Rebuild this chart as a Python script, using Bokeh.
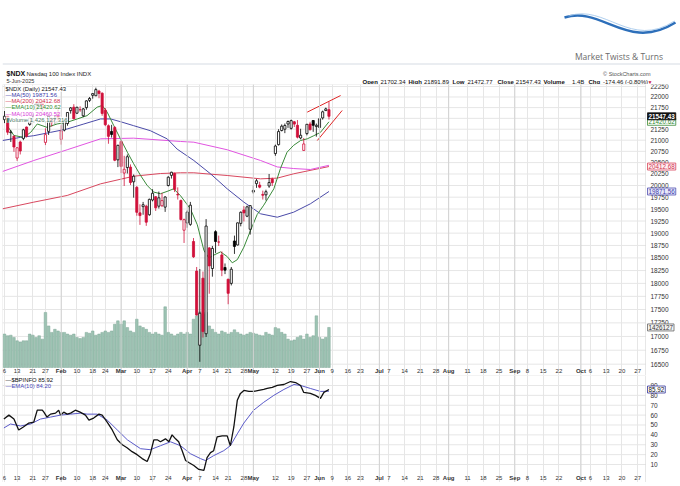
from bokeh.plotting import figure
from bokeh.layouts import column
from bokeh.models import (ColumnDataSource, Range1d, LinearScale, FixedTicker,
                          Label, LabelSet, Span, BoxAnnotation)
from bokeh.core.properties import value
from bokeh.embed import file_html
from bokeh.resources import INLINE

FONT = "Liberation Sans"

# ---- $NDX daily candles, 6-Jan-2025 .. 5-Jun-2025 (trading-day index 0..103)
prior_close = 21326
opens = [
    21470, 21560, 21170, 21090, 20600, 20960, 21040, 21300, 21360, 21560,
    21700, 21780, 21870, 20950, 21200, 21480, 21500, 21620, 21020, 21230,
    21380, 21680, 21760, 21620, 21700, 21560, 21750, 21920, 22040, 22030,
    22140, 22090, 21690, 21330, 21200, 21290, 20560, 20970, 20270, 20390,
    20400, 20080, 19960, 19420, 19550, 19560, 19380, 19690, 19760, 19560,
    19570, 19540, 20000, 20220, 20260, 19810, 19680, 19060, 19210, 19180,
    18830, 18240, 16840, 18100, 17050, 18700, 18290, 19030, 18820, 18560,
    18310, 18080, 18000, 18840, 18760, 19200, 19480, 19350, 19080, 19860,
    20040, 20010, 19810, 19800, 19990, 20140, 20700, 20900, 21220, 21250,
    21370, 21270, 21420, 21340, 21050, 20770, 21150, 21370, 21450, 21310,
    21290, 21510, 21680, 21702.34]
highs = [
    21670, 21600, 21230, 21110, 20840, 20990, 21260, 21310, 21510, 21600,
    21860, 21880, 21910, 21270, 21590, 21520, 21580, 21740, 21340, 21460,
    21640, 21760, 21830, 21770, 21780, 21740, 21920, 22000, 22090, 22222,
    22170, 22110, 21740, 21360, 21350, 21320, 20900, 21000, 20650, 20680,
    20460, 20240, 19990, 19600, 19650, 19590, 19720, 19920, 19770, 19870,
    19840, 19770, 20200, 20300, 20280, 19960, 19700, 19300, 19470, 19650,
    18900, 18320, 18280, 18230, 19290, 18720, 18740, 19060, 18950, 18630,
    18390, 18090, 18320, 18950, 19220, 19450, 19560, 19570, 19580, 20000,
    20140, 20080, 19890, 19910, 20250, 20170, 20900, 21250, 21360, 21380,
    21450, 21470, 21440, 21460, 21260, 21050, 21370, 21420, 21460, 21380,
    21500, 21680, 21750, 21891.89]
lows = [
    21390, 21120, 20960, 20740, 20538, 20680, 21000, 21060, 21330, 21410,
    21690, 21720, 21660, 20890, 21120, 21310, 21380, 21430, 20900, 21200,
    21330, 21610, 21480, 21600, 21650, 21530, 21700, 21880, 21960, 22020,
    21970, 21560, 21320, 20920, 21060, 20530, 20400, 20270, 19990, 20260,
    20010, 19740, 19360, 19170, 19380, 19150, 19360, 19660, 19460, 19510,
    19540, 19440, 19980, 20150, 19860, 19700, 19260, 18800, 19110, 19150,
    18500, 17390, 16542, 16980, 16990, 17800, 18130, 18600, 18740, 18140,
    18180, 17600, 17960, 18580, 18750, 19140, 19240, 19330, 18970, 19820,
    19950, 19940, 19700, 19680, 19950, 19990, 20650, 20880, 21200, 21160,
    21280, 21240, 21300, 21040, 21020, 20760, 21110, 21220, 21190, 21080,
    21170, 21470, 21670, 21472.77]
closes = [
    21550, 21181, 21185, 20847, 20830, 20757, 21237, 21090, 21505, 21566,
    21839, 21862, 21708, 21127, 21549, 21411, 21478, 21470, 21210, 21446,
    21636, 21743, 21491, 21758, 21700, 21720, 21908, 21965, 22080, 22175,
    22083, 21614, 21353, 21087, 21131, 20551, 20884, 20415, 20353, 20629,
    20064, 20201, 19431, 19363, 19590, 19226, 19704, 19834, 19526, 19737,
    19678, 19754, 20180, 20287, 19916, 19798, 19281, 19278, 19435, 19581,
    18521, 17397, 17430, 17090, 19145, 18342, 18690, 18830, 18819, 18257,
    18258, 17808, 18276, 18731, 19212, 19432, 19419, 19546, 19571, 19895,
    20102, 19965, 19792, 19867, 20064, 20061, 20868, 21196, 21320, 21336,
    21427, 21447, 21367, 21069, 21112, 20915, 21363, 21239, 21339, 21340,
    21491, 21652, 21720, 21547.43]
volumes_m = [
    1190, 1130, 1150, 1070, 950, 910, 950, 950, 1190, 1150,
    1070, 1130, 1010, 1960, 1480, 1250, 1360, 1300, 1250, 1250,
    1190, 1150, 1190, 1070, 1030, 1070, 1250, 1220, 1300, 1150,
    1190, 1250, 1300, 1250, 1300, 1540, 1660, 1540, 1660, 1420,
    1300, 1250, 1720, 1480, 1420, 1360, 1250, 1190, 1250, 1190,
    1150, 2160, 1250, 1190, 1130, 1190, 1250, 1190, 1250, 1190,
    1720, 1840, 1980, 1900, 1960, 1480, 1360, 1250, 1190, 1300,
    1250, 1190, 1250, 1340, 1250, 1190, 1150, 1190, 1250, 1220,
    1190, 1150, 1130, 1250, 1190, 1150, 1420, 1380, 1250, 1190,
    1010, 950, 980, 1070, 1130, 1010, 1190, 1070, 1130, 1840,
    1070, 1010, 1070, 1426]

# ---- overlays (trading-day index, value)
ma50_x = [-0.6, 5.1, 9.3, 14.6, 19.9, 25.2, 30.5, 33.7, 36.8, 41, 46.3, 51.7, 54.8,
          60.1, 65.4, 70.7, 76, 81.3, 86.6, 91.8, 97.1, 103]
ma50_y = [20993, 21064, 21102, 21178, 21255, 21370, 21486, 21486, 21423, 21331, 21216,
          21028, 20800, 20546, 20254, 19929, 19645, 19400, 19329, 19434, 19610, 19871.56]
ma200_x = [-0.6, 9.3, 19.9, 30.5, 41, 49.5, 55.9, 60.1, 70.7, 81.3, 86.6, 91.8, 103]
ma200_y = [19505, 19645, 19787, 20036, 20201, 20260, 20276, 20276, 20217, 20144, 20160,
           20254, 20412.68]
ma100_x = [-0.6, 9.3, 19.9, 30.5, 41, 55.9, 60.1, 70.7, 81.3, 86.6, 91.8, 97.1, 103]
ma100_y = [20305, 20546, 20785, 21031, 21046, 20971, 20955, 20785, 20546, 20404, 20369,
           20348, 20440]
ema10_x = [0.8, 3, 6.1, 8.3, 10.4, 13.5, 16.7, 19.9, 23.1, 26.2, 29.4, 31, 32.6, 34.7,
           36.8, 39, 41, 43.2, 45.3, 47.4, 49.5, 51.6, 53.7, 55.9, 59, 61.2, 63.3, 64.9,
           66.5, 68.6, 70.7, 72.3, 73.9, 76, 78.1, 80.2, 82.3, 85.5, 87.6, 89.7, 91.8,
           94, 96.1, 98.2, 100.3, 103]
ema10_y = [21335, 21107, 21064, 21178, 21370, 21293, 21370, 21409, 21486, 21563, 21760,
           21800, 21644, 21331, 21031, 20731, 20475, 20217, 20000, 19859, 19824, 19873,
           19929, 19780, 19505, 19173, 18653, 18497, 18558, 18621, 18527, 18403, 18465,
           18716, 19054, 19383, 19581, 19929, 20369, 20731, 20885, 20993, 21031, 21102,
           21178, 21420.62]
wedge_up_x = [96.1, 106.7]
wedge_up_y = [21644, 22035]
wedge_lo_x = [99.3, 107.2]
wedge_lo_y = [20993, 21683]

# ---- $BPINFO and its EMA(10)
bp_x = [-0.2, 1.4, 3, 4.5, 6, 7.7, 9.3, 10.4, 12, 12.5, 13.5, 14.6, 16.2, 17.2, 17.8,
        18.8, 19.9, 21, 22.5, 24, 25.7, 26.8, 28.3, 30, 31, 32.6, 34.2, 35.8, 37.4,
        38.9, 40.5, 42.1, 43.7, 45.3, 46.3, 47.4, 48.5, 49.5, 51.1, 52.2, 53.2, 54.3,
        55.3, 56.4, 57.5, 58.5, 60.1, 61.7, 63.3, 64.3, 65.4, 66.4, 67.5, 69.1, 70.7,
        71.7, 72.8, 73.9, 74.9, 76, 77.6, 79.1, 80.7, 82.3, 83.4, 85, 86.6, 88.7, 90.8,
        92.4, 94, 95, 97.1, 98.7, 100.3, 101.4, 103]
bp_y = [56, 60, 56, 45, 48, 52, 53, 65, 65, 63, 58, 61, 62, 65, 60, 63, 61, 62, 65, 63,
        60, 55, 57, 61, 60, 53, 45, 35, 30, 27, 23, 20, 16, 13, 21, 35, 35, 33, 36, 33,
        40, 36, 33, 24, 14, 12, 9, 5, 4, 17, 22, 24, 38, 39, 39, 29, 48, 75, 82, 85, 84,
        84, 85, 86, 87, 88, 90, 91, 94, 93, 90, 83, 82, 80, 77, 83, 85.92]
bpe_x = [-0.2, 1.9, 5.1, 8.3, 11.4, 14.6, 17.8, 21, 24.1, 26.2, 29.4, 32.6, 35.8, 39,
         43.2, 46.3, 49.5, 52.7, 55.9, 59, 62.2, 63.8, 66.4, 69.6, 71.7, 73.9, 76, 79.1,
         82.3, 85.5, 88.7, 91.9, 94, 97.1, 100.3, 103]
bpe_y = [47, 51, 49, 51, 56, 58, 60, 61, 62, 61, 61, 55, 45, 35, 26, 25, 29, 33, 29, 21,
         16, 14, 19, 24, 29, 41, 52, 65, 73, 80, 86, 91, 90, 87, 84, 84.2]

# ---- axis ticks
tick_idx = [0, 4, 9, 13, 18, 23, 28, 32, 37, 42, 47, 52, 58, 62, 67, 71, 76, 79, 86, 91,
            96, 100, 104, 109, 113, 119, 122, 127, 132, 137, 141, 147, 152, 157, 162,
            166, 171, 176, 183, 186, 191, 196, 201]
tick_txt = ["6", "13", "21", "27", "Feb", "10", "18", "24", "Mar", "10", "17", "24",
            "Apr", "7", "14", "21", "28", "May", "12", "19", "27", "Jun", "9", "16", "23",
            "Jul", "7", "14", "21", "28", "Aug", "11", "18", "25", "Sep", "8", "15", "22",
            "Oct", "6", "13", "20", "27"]
months = ["Feb", "Mar", "Apr", "May", "Jun", "Jul", "Aug", "Sep", "Oct"]
price_ticks = list(range(16500, 22251, 250))
bp_ticks = [10, 20, 30, 40, 50, 60, 70, 80, 90]

RED = "#d0103a"
BLACK = "#000000"
GRID = "#e6e6e6"

n = len(closes)
days = list(range(n))
prev = [prior_close] + closes[:-1]
ccol = [BLACK if c >= p else RED for c, p in zip(closes, prev)]
cfill = ["#ffffff" if c > o else k for o, c, k in zip(opens, closes, ccol)]
ctop = [max(o, c) for o, c in zip(opens, closes)]
cbot = [min(o, c) for o, c in zip(opens, closes)]

day_lbl = [(i, t) for i, t in zip(tick_idx, tick_txt) if t not in months]
mon_lbl = [(i, t) for i, t in zip(tick_idx, tick_txt) if t in months]
mon_idx = [i for i, _ in mon_lbl]

# the frame spans the price-scale strip too; the chart box itself ends at PANEL_END
xr = Range1d(-0.635, 214.6)
PANEL_END = 203.49


def date_labels(fig, y):
    for rows, style in ((day_lbl, "normal"), (mon_lbl, "bold")):
        src = ColumnDataSource(dict(x=[r[0] for r in rows], t=[r[1] for r in rows]))
        fig.add_layout(LabelSet(x="x", y=y, y_units="screen", text="t", source=src,
                                text_align="center", text_baseline="middle",
                                text_font=value(FONT), text_font_size="6px",
                                text_font_style=style, text_color="#333333"))


def note(fig, x, y, s, size, color="#222222", bold=False, align="left", units="data",
         font=FONT, **kw):
    fig.add_layout(Label(x=x, y=y, x_units=units, y_units=units, text=s,
                         text_font=font, text_font_size=f"{size}px", text_color=color,
                         text_font_style="bold" if bold else "normal",
                         text_align=align, text_baseline="middle", **kw))


def style_panel(fig, yticks):
    fig.outline_line_color = None
    fig.background_fill_color = "white"
    fig.border_fill_color = "white"
    fig.xgrid.ticker = FixedTicker(ticks=tick_idx)
    fig.xgrid.grid_line_color = GRID
    fig.ygrid.visible = False
    fig.segment(x0=xr.start, x1=PANEL_END, y0=yticks, y1=yticks, line_color=GRID,
                line_width=1)
    for m in mon_idx:
        fig.add_layout(Span(location=m, dimension="height", line_color="#d2d2d2",
                            line_width=1))
    fig.add_layout(BoxAnnotation(left=xr.start, right=PANEL_END, fill_alpha=0,
                                 line_color="#b0b0b0", line_width=1))
    src = ColumnDataSource(dict(y=yticks, t=[str(t) for t in yticks]))
    fig.add_layout(LabelSet(x=648, x_units="screen", y="y", text="t", source=src,
                            text_align="left", text_baseline="middle",
                            text_font=value(FONT), text_font_size="6.5px",
                            text_color="#333333"))


def axis_box(fig, yv, s, fg, bg, border, bold=False, rng="default"):
    fig.add_layout(Label(x=645, x_units="screen", y=yv, y_range_name=rng, text=s,
                         text_font=FONT, text_font_size="6.3px", text_color=fg,
                         text_font_style="bold" if bold else "normal",
                         text_baseline="middle", background_fill_color=bg,
                         border_line_color=border, border_line_width=0.8, padding=1))


# ---------------- header (data units == page pixels, y measured upward)
hdr = figure(frame_width=680, frame_height=84, x_range=Range1d(0, 680),
             y_range=Range1d(0, 84), toolbar_location=None, output_backend="svg",
             x_axis_location=None, y_axis_location=None, min_border_left=0,
             min_border_right=0, min_border_top=0, min_border_bottom=0,
             outline_line_color=None)
hdr.xgrid.visible = False
hdr.ygrid.visible = False


def hy(y):
    return 84 - y


hdr.bezier(x0=[562], y0=[hy(17)], x1=[673], y1=[hy(22)],
           cx0=[600], cy0=[hy(5)], cx1=[625], cy1=[hy(52)],
           line_color="#2d6fba", line_width=2.4)
hdr.bezier(x0=[566], y0=[hy(15.5)], x1=[672], y1=[hy(20.5)],
           cx0=[603], cy0=[hy(3)], cx1=[628], cy1=[hy(49)],
           line_color="#9cc3ea", line_width=0.8)
note(hdr, 616.5, hy(56), "Market Twists & Turns", 8.5, color="#6b6b6b",
     align="center", font="Open Sans")
hdr.add_layout(Span(location=hy(63.5), dimension="width", line_color="#d5dbe3",
                    line_width=1))
note(hdr, 4, hy(73), "$NDX", 7, color="#111111", bold=True)
note(hdr, 24, hy(73), "Nasdaq 100 Index INDX", 6, color="#222222")
note(hdr, 4, hy(80), "5-Jun-2025", 5.5, color="#333333")
note(hdr, 648, hy(73.3), "\u00a9 StockCharts.com", 5.5, color="#555555", align="right")
ohlc = [(360, "Open", True), (378, "21702.34", False), (406, "High", True),
        (421.5, "21891.89", False), (450, "Low", True), (465, "21472.77", False),
        (495, "Close", True), (513.3, "21547.43", False), (541, "Volume", True),
        (569.5, "1.4B", False), (586, "Chg", True), (600.5, "-174.46 (-0.80%)", False)]
for x_, s, b in ohlc:
    note(hdr, x_, hy(81.5), s, 6.0, color="#111111", bold=b)
note(hdr, 645, hy(81.5), "\u25bc", 5, color=RED)

# ---------------- price panel
p = figure(frame_width=678, frame_height=291, x_range=xr, y_range=Range1d(16300, 22298),
           y_axis_type="log", y_axis_location=None, x_axis_location=None,
           toolbar_location=None, output_backend="svg", min_border_left=2,
           min_border_right=0, min_border_top=0, min_border_bottom=0)
style_panel(p, price_ticks)
p.extra_y_ranges = {"vol": Range1d(-285, 10075)}
p.extra_y_scales = {"vol": LinearScale()}

p.vbar(x=days, top=volumes_m, bottom=0, width=0.82, y_range_name="vol",
       fill_color="#9dc3b3", line_color="#7ea696", line_width=0.5)
p.line(ma200_x, ma200_y, line_color="#d8475e", line_width=1)
p.line(ma100_x, ma100_y, line_color="#e155e1", line_width=1)
p.line(ma50_x, ma50_y, line_color="#4a4aa8", line_width=1)
p.line(ema10_x, ema10_y, line_color="#3a8a3a", line_width=1)
p.segment(x0=days, y0=lows, x1=days, y1=highs, line_color=ccol, line_width=0.8)
p.vbar(x=days, width=0.68, top=ctop, bottom=cbot, fill_color=cfill, line_color=ccol,
       line_width=0.8)
p.line(wedge_up_x, wedge_up_y, line_color="#e02828", line_width=1)
p.line(wedge_lo_x, wedge_lo_y, line_color="#e02828", line_width=1)

legend_rows = [("$NDX (Daily) 21547.43", "#111111"),
               ("\u2014MA(50) 19871.56", "#3b3bab"),
               ("\u2014MA(200) 20412.68", "#d0304a"),
               ("\u2014EMA(10) 21420.62", "#2e8b2e"),
               ("\u2014MA(100) 20460.52", "#d83ad8"),
               ("\u25aeVolume 1,426,127,316", "#4d7a66")]
for k, (s, c) in enumerate(legend_rows):
    note(p, 3, 286.7 - 6.2 * k, s, 5.9, color=c, units="screen",
         background_fill_color="white", background_fill_alpha=0.85)

date_labels(p, 5)

axis_box(p, 19871.56, "19871.56", "#3b3bab", "#e8e8fa", "#5050b0")
axis_box(p, 20412.68, "20412.68", "#d0304a", "#fff0f3", "#d8475e")
axis_box(p, 21420.62, "21420.62", "#2e8b2e", "white", "#3a8a3a")
axis_box(p, 21547.43, "21547.43", "white", "#111111", "#111111", bold=True)
axis_box(p, 1426, "1426127", "#333333", "#f4f4f4", "#666666", rng="vol")

# ---------------- $BPINFO panel
q = figure(frame_width=678, frame_height=107, x_range=xr, y_range=Range1d(-8.2, 100.1),
           y_axis_location=None, x_axis_location=None, toolbar_location=None,
           output_backend="svg", min_border_left=2, min_border_right=0,
           min_border_top=0, min_border_bottom=0)
style_panel(q, bp_ticks)
q.line(bpe_x, bpe_y, line_color="#5a5ac8", line_width=1)
q.line(bp_x, bp_y, line_color="#111111", line_width=1.3)
note(q, 3, 103, "\u2014$BPINFO 85.92", 5.9, color="#111111", units="screen")
note(q, 3, 97, "\u2014EMA(10) 84.20", 5.9, color="#4a4ab8", units="screen")
axis_box(q, 85.92, "85.92", "#111111", "white", "#333399")
date_labels(q, 5)

layout = column(hdr, p, q)
open("out.html", "w").write(file_html(layout, INLINE))
